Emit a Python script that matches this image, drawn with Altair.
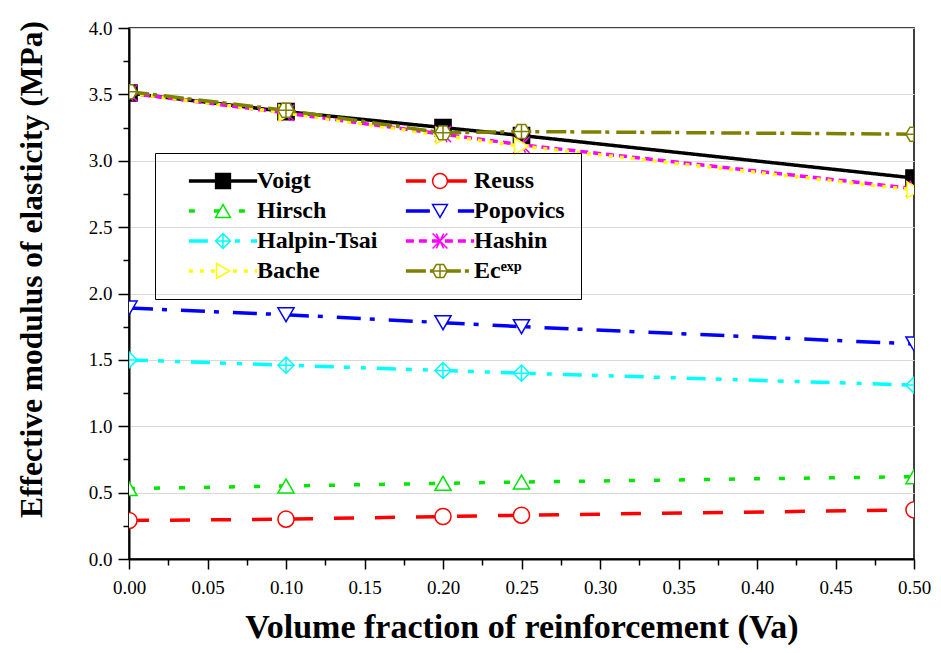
import altair as alt
import pandas as pd

x_vals = [0.0, 0.10, 0.20, 0.25, 0.50]
series = ["Voigt", "Reuss", "Hirsch", "Popovics", "Halpin-Tsai", "Hashin", "Bache", "Ecᵉˣᵖ"]
voigt = [3.51, 3.37, 3.25, 3.19, 2.87]
reuss = [0.29, 0.30, 0.32, 0.33, 0.37]
hirsch = [0.53, 0.55, 0.57, 0.58, 0.62]
popovics = [1.89, 1.84, 1.78, 1.75, 1.62]
halpin = [1.50, 1.46, 1.42, 1.40, 1.31]
hashin = [3.51, 3.36, 3.20, 3.12, 2.79]
bache = [3.51, 3.36, 3.19, 3.11, 2.78]
ecexp = [3.52, 3.38, 3.21, 3.22, 3.20]
values = [voigt, reuss, hirsch, popovics, halpin, hashin, bache, ecexp]

colors = ["#000000", "#ff0000", "#00e600", "#0000ff", "#00ffff", "#ff00ff", "#ffff00", "#808000"]
fills = ["#000000", "white", "white", "white", "white", "white", "white", "white"]
dashes = [[1, 0], [20, 21], [6, 19], [24, 9, 5, 14], [19, 10, 6, 11, 5, 11], [8, 5], [4, 7], [20, 4, 4, 7]]
shapes = [
    "square",
    "circle",
    "triangle-up",
    "triangle-down",
    "M0,-1L1,0L0,1L-1,0ZM0,-1L0,1M-1,0L1,0",
    "M-1,-1L1,1M-1,1L1,-1M-0.5,-1L0.5,1M-0.5,1L0.5,-1",
    "triangle-right",
    "M-1,0L-0.5,-0.866L0.5,-0.866L1,0L0.5,0.866L-0.5,0.866ZM0,-0.866L0,0.866M-1,0L1,0",
]

# line-legend keys carry a zero-width space so Vega-Lite keeps the two legends apart
series_l = [s + "\u200b" for s in series]

rows = []
for name, name_l, vals in zip(series, series_l, values):
    for xv, yv in zip(x_vals, vals):
        rows.append({"series": name, "series_l": name_l, "x": xv, "y": yv})
df = pd.DataFrame(rows)

y_ticks = [i * 0.25 for i in range(17)]
x_ticks = [round(i * 0.025, 3) for i in range(21)]

FONT = "Liberation Serif, Times New Roman, Tinos, DejaVu Serif, serif"

common_leg = dict(
    title=None, orient="none", legendX=26, legendY=125, columns=2, direction="horizontal",
    padding=16, labelFont=FONT, labelFontSize=24, labelFontWeight="bold", labelColor="black",
    rowPadding=6, columnPadding=10, labelLimit=300,
    symbolSize=220, symbolOffset=40, labelOffset=22,
)
leg_lines = alt.Legend(
    symbolType="M-4.6,0L4.6,0", symbolStrokeWidth=3.5, labelOpacity=0, **common_leg,
)
leg_marks = alt.Legend(
    strokeColor="black", symbolStrokeWidth=1.5, **common_leg,
)

x_enc = alt.X(
    "x:Q",
    scale=alt.Scale(domain=[0, 0.5], nice=False, zero=False),
    axis=alt.Axis(
        title="Volume fraction of reinforcement (Va)", values=x_ticks,
        labelExpr="(round(datum.value*40) % 2 == 0) ? format(datum.value, '.2f') : ''",
        tickSize={"condition": {"test": "round(datum.value*40) % 2 == 0", "value": 10}, "value": 6},
        grid=False, labelPadding=9, titlePadding=13, labelFlush=False,
        titleFontSize=34,
    ),
)
y_enc = alt.Y(
    "y:Q",
    scale=alt.Scale(domain=[0, 4], nice=False),
    axis=alt.Axis(
        title="Effective modulus of elasticity (MPa)", values=y_ticks,
        labelExpr="(round(datum.value*4) % 2 == 0) ? format(datum.value, '.1f') : ''",
        tickSize={"condition": {"test": "round(datum.value*4) % 2 == 0", "value": 11}, "value": 6},
        grid=True,
        gridOpacity={"condition": {"test": "round(datum.value*4) % 2 == 0", "value": 1}, "value": 0},
        labelPadding=6, titlePadding=40, titleFontSize=31.5, titleY=241, labelFlush=False,
    ),
)

layers = []
for name in series:
    sub = df[df.series == name]
    line = alt.Chart(sub).mark_line(strokeWidth=3.5, clip=True).encode(
        x=x_enc, y=y_enc,
        stroke=alt.Stroke("series_l:N", scale=alt.Scale(domain=series_l, range=colors), legend=leg_lines),
        strokeDash=alt.StrokeDash("series_l:N", scale=alt.Scale(domain=series_l, range=dashes), legend=None),
    )
    pts = alt.Chart(sub).mark_point(size=260, strokeWidth=1.5, opacity=1, filled=False, clip=True).encode(
        x=x_enc, y=y_enc,
        color=alt.Color("series:N", scale=alt.Scale(domain=series, range=colors), legend=leg_marks),
        shape=alt.Shape("series:N", scale=alt.Scale(domain=series, range=shapes), legend=leg_marks),
        fill=alt.Fill("series:N", scale=alt.Scale(domain=series, range=fills), legend=leg_marks),
    )
    layers += [line, pts]

chart = alt.layer(*layers).properties(
    width=785, height=531,
    autosize=alt.AutoSizeParams(type="none"),
    padding={"left": 121, "top": 20, "right": 19, "bottom": 86},
).configure_axis(
    labelFont=FONT, labelFontSize=19, labelColor="black",
    titleFont=FONT, titleFontWeight="bold", titleColor="black",
    domainColor="black", domainWidth=2, tickColor="black", tickWidth=1.5,
    gridColor="#d9d9d9", gridWidth=1,
).configure_view(stroke="black", strokeWidth=1.5)

chart.save("out.html", embed_options={"renderer": "svg", "actions": False})
